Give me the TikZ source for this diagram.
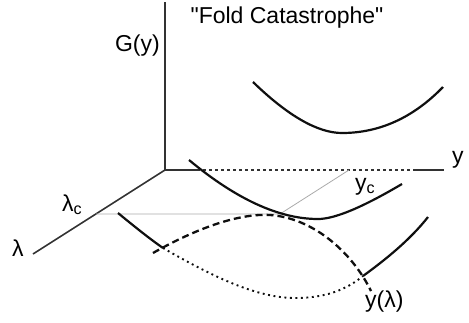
\documentclass[tikz,border=0pt]{standalone}
\usepackage{fontspec}
\setmainfont{Liberation Sans}[Ligatures=TeXOff]
\usepackage{tikz}
\usetikzlibrary{positioning}
\definecolor{axisgray}{RGB}{50,50,50}
\definecolor{curveblack}{RGB}{15,15,15}
\definecolor{guidegray}{RGB}{170,170,170}

\begin{document}
\begin{tikzpicture}[x=1pt, y=-1pt, font=\fontsize{23}{27}\selectfont,
    axis/.style={axisgray, line width=1.6pt},
    curve/.style={curveblack, line width=2.2pt},
    guide/.style={guidegray, line width=0.8pt},
    hidden/.style={curveblack, line width=1.9pt, dash pattern=on 1.9pt off 3.6pt},
    locus/.style={curveblack, line width=2.3pt, dash pattern=on 7pt off 4pt},
    lbl/.style={inner sep=0pt}]
  \useasboundingbox (0,0) rectangle (469,322);
  % Axes
  \coordinate (O) at (165,170);
  \coordinate (Gtop) at (165,2);
  \coordinate (lamend) at (33,254);
  \coordinate (ycross) at (197,170);
  \coordinate (yback) at (414,170);
  \coordinate (yend) at (444,170);
  \draw[axis] (O) -- (Gtop);
  \draw[axis] (O) -- (lamend);
  \draw[axis] (O) -- (ycross);
  \draw[axis, dash pattern=on 3pt off 3pt] (ycross) -- (yback);
  \draw[axis] (yback) -- (yend);
  % Guides to the critical point
  \coordinate (lamc) at (96,214);
  \coordinate (fold) at (280,214);
  \coordinate (yc) at (349,170);
  \draw[guide] (lamc) -- (fold) -- (yc);
  % G(y) before the fold
  \draw[curve] (253,82) .. controls (288,116) and (318,133) .. (342,133)
    .. controls (379,133) and (413,118) .. (443,87);
  % G(y) at the fold
  \draw[curve] (189,160) .. controls (236,199) and (279,219) .. (318,219)
    .. controls (335,219) and (363,207) .. (402,184);
  % G(y) past the fold
  \draw[curve] (118,213) .. controls (135,227) and (150,239) .. (163,248);
  \draw[hidden] (163,248) .. controls (215,278) and (258,298) .. (295,298)
    .. controls (325,298) and (346,290) .. (363,276);
  \draw[curve] (363,276) .. controls (385,260) and (410,240) .. (428,217);
  % Locus of the extrema
  \draw[locus] (153,253) .. controls (190,232) and (235,213) .. (270,215)
    .. controls (313,218) and (352,252) .. (371,291);
  % Labels
  \node[lbl, anchor=base] (title) at (287,23) {"Fold Catastrophe"};
  \node[lbl, anchor=base east] (Glabel) at (160,51) {G(y)};
  \node[lbl, anchor=base west] (ylabel) at (452,163) {y};
  \node[lbl, anchor=base west] (lamlabel) at (12,256) {λ};
  \node[lbl, anchor=base west] (lamclabel) at (62,211) {λ\textsubscript{c}};
  \node[lbl, anchor=base west] (yclabel) at (355,190) {y\textsubscript{c}};
  \node[lbl, anchor=base west] (ylamlabel) at (365,307) {y(λ)};
\end{tikzpicture}
\end{document}
